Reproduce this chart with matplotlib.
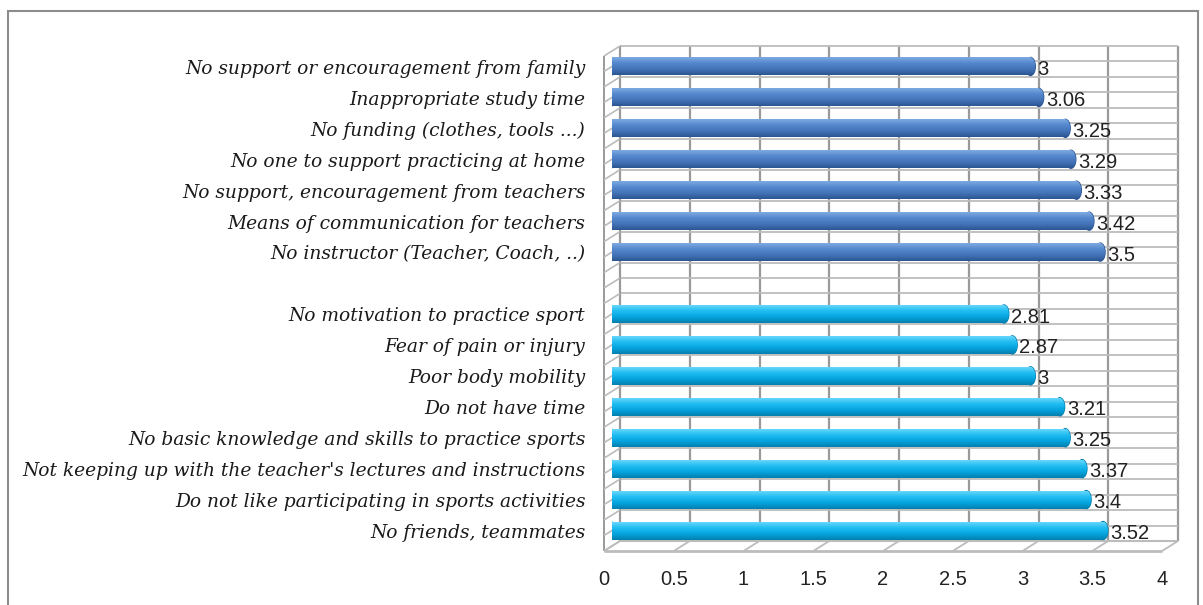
import numpy as np
import matplotlib.pyplot as plt
from matplotlib.patches import Ellipse, Rectangle
from matplotlib.colors import LinearSegmentedColormap

# Barriers from the family / school side (upper block)
support_labels = [
    "No support or encouragement from family",
    "Inappropriate study time",
    "No funding (clothes, tools ...)",
    "No one to support practicing at home",
    "No support, encouragement from teachers",
    "Means of communication for teachers",
    "No instructor (Teacher, Coach, ..)",
]
support_values = [3, 3.06, 3.25, 3.29, 3.33, 3.42, 3.5]

# Barriers from the student side (lower block)
personal_labels = [
    "No motivation to practice sport",
    "Fear of pain or injury",
    "Poor body mobility",
    "Do not have time",
    "No basic knowledge and skills to practice sports",
    "Not keeping up with the teacher's lectures and instructions",
    "Do not like participating in sports activities",
    "No friends, teammates",
]
personal_values = [2.81, 2.87, 3, 3.21, 3.25, 3.37, 3.4, 3.52]

x_ticks = [0, 0.5, 1, 1.5, 2, 2.5, 3, 3.5, 4]

W, H = 1203, 605
fig = plt.figure(figsize=(W / 100, H / 100), dpi=100)

# axes is the middle depth plane of the pseudo-3D box (pixel layout)
left_px, right_px, top_px, bottom_px = 612, 1170, 51, 546
ax = fig.add_axes([left_px / W, 1 - bottom_px / H,
                   (right_px - left_px) / W, (bottom_px - top_px) / H])
ax.set_xlim(0, 4)
ax.set_ylim(15.5, -0.5)
ax.axis("off")

# depth offset (8 px right, 5 px up) expressed in data units
DX = 8 / ((right_px - left_px) / 4)
DY = 5 / ((bottom_px - top_px) / 16)

grid_dark = "#9a9a9a"
grid_light = "#bcbcbc"
kw = dict(clip_on=False, solid_capstyle="butt")

# back wall: vertical value gridlines and half-slot horizontal lines
for v in x_ticks:
    ax.plot([v + DX, v + DX], [15.5 - DY, -0.5 - DY], color=grid_dark, lw=1.6, zorder=1, **kw)
for yy in np.arange(-0.5, 15.51, 0.5):
    ax.plot([DX, 4 + DX], [yy - DY, yy - DY], color=grid_light, lw=1.3, zorder=1, **kw)

# left wall
ax.plot([DX, DX], [15.5 - DY, -0.5 - DY], color=grid_dark, lw=1.4, zorder=1, **kw)
ax.plot([-DX, -DX], [15.5 + DY, -0.5 + DY], color=grid_dark, lw=1.4, zorder=1, **kw)
for yy in np.arange(-0.5, 15.51, 0.5):
    ax.plot([-DX, DX], [yy + DY, yy - DY], color=grid_light, lw=1.2, zorder=1, **kw)

# floor
ax.plot([DX, 4 + DX], [15.5 - DY, 15.5 - DY], color=grid_light, lw=1.5, zorder=1, **kw)
ax.plot([-DX, 4 - DX], [15.5 + DY, 15.5 + DY], color=grid_light, lw=2.0, zorder=1, **kw)
for v in x_ticks:
    ax.plot([v - DX, v + DX], [15.5 + DY, 15.5 - DY], color=grid_light, lw=1.3, zorder=1, **kw)

# bar rows: upper block, one empty slot, lower block
labels = support_labels + [""] + personal_labels
values = support_values + [None] + personal_values
rows = np.arange(len(labels))
dark_blue = ["#7eaae2", "#5487cd", "#4474b8", "#2b5592"]
cyan = ["#66d6fb", "#1fbcf2", "#04a4de", "#047fae"]

bar_h = 0.58
grad = np.linspace(0, 1, 64).reshape(-1, 1)
for row, lab, val in zip(rows, labels, values):
    if lab:
        ax.text(-0.19, row + 0.08, lab, ha="right", va="center",
                fontsize=13.4, fontstyle="italic", family="DejaVu Serif",
                color="#1a1a1a")
    if val is None:
        continue
    shades = dark_blue if row < 7 else cyan
    cmap = LinearSegmentedColormap.from_list("cyl", shades)
    ext = [row + bar_h / 2, row - bar_h / 2]

    bar = ax.barh(row, val, height=bar_h, color=shades[2], zorder=3)[0]
    img = ax.imshow(grad, cmap=cmap, aspect="auto", zorder=3.1,
                    extent=[0, val] + ext)
    img.set_clip_path(bar)

    # rounded ends of the cylinder; the body hides the inner half of each cap
    for cx, edge in ((0, "none"), (val, shades[3])):
        cap = Ellipse((cx, row), 2 * DX * 0.6, bar_h, facecolor=shades[2],
                      edgecolor=edge, lw=1.0, zorder=2.9)
        ax.add_patch(cap)
        img_c = ax.imshow(grad, cmap=cmap, aspect="auto", zorder=2.95,
                          extent=[cx - DX, cx + DX] + ext)
        img_c.set_clip_path(cap)

    ax.text(val + 0.05, row + 0.1, f"{val:g}", ha="left", va="center",
            fontsize=14.5, family="Liberation Sans", color="#222222", zorder=4)

ax.set_xlim(0, 4)
ax.set_ylim(15.5, -0.5)

# value axis labels on the front edge of the floor
for v in x_ticks:
    ax.text(v - DX, 16.58, f"{v:g}", ha="center", va="center",
            fontsize=14.5, family="Liberation Sans", color="#222222")

# chart area border
fig.patches.append(Rectangle((8 / W, -0.05), 1190 / W, 1.05 - 11 / H,
                             transform=fig.transFigure, fill=False,
                             edgecolor="#8c8c8c", lw=1.5))

plt.savefig("out.png", dpi=100)
